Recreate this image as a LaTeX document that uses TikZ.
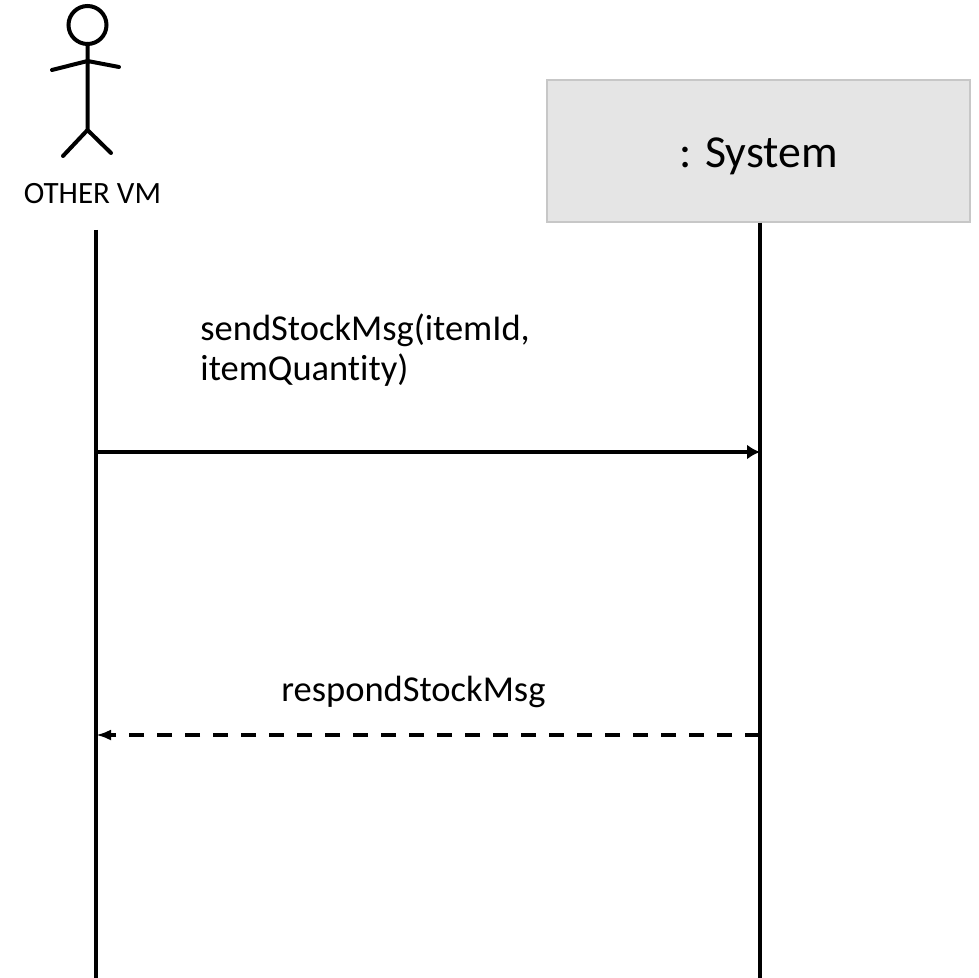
\documentclass[tikz,border=0pt]{standalone}
\usepackage{fontspec}
\setmainfont{Carlito}[Ligatures=NoCommon]
\usetikzlibrary{arrows.meta}

\begin{document}
\begin{tikzpicture}[x=0.5pt,y=-0.5pt]
        \useasboundingbox (0,0) rectangle (979,978);
        % Define the actor (stick figure)
        \draw[line width=2pt] (87.5,25) circle (9.5pt);
        \draw[line width=2pt,line cap=round] (87.5,44) -- (87.5,130)
            (52,70) -- (87.5,61) -- (119,67)
            (63,156) -- (87.5,130) -- (111,153);
        \node[anchor=base,inner sep=0pt,font=\fontsize{15.5}{18}\selectfont] (actor) at (92.5,204) {OTHER VM};
        % Define the system object
        \node[draw=black!22,fill=black!10,line width=0.75pt,minimum width=211.5pt,minimum height=71pt,
              inner sep=0pt,text height=17pt,text depth=0pt,font=\fontsize{22.9}{26}\selectfont] (sys) at (758.5,151) {: System};
        % Lifelines
        \coordinate (actTop) at (96,230);
        \coordinate (actEnd) at (96,978);
        \coordinate (sysEnd) at (760,978);
        \draw[line width=1.8pt] (actTop) -- (actEnd);
        \draw[line width=1.8pt] (sys.south -| sysEnd) -- (sysEnd);
        % Messages
        \coordinate (m1a) at (96,452);
        \coordinate (m1b) at (760,452);
        \coordinate (m2a) at (96,735);
        \coordinate (m2b) at (760,735);
        \draw[line width=1.6pt,-{Latex[length=6.5pt,width=7.5pt]}] (m1a) -- (m1b);
        \draw[line width=1.6pt,dash pattern=on 7.5pt off 6.5pt,-{Latex[length=7.5pt,width=5.5pt]}] (m2b) -- (m2a);
        \node[anchor=base west,inner sep=0pt,align=left,font=\fontsize{18.25}{20}\selectfont] (msg1) at (200,380) {sendStockMsg(itemId,\\itemQuantity)};
        \node[anchor=base west,inner sep=0pt,font=\fontsize{18.25}{20}\selectfont] (msg2) at (281,701) {respondStockMsg};
    \end{tikzpicture}
\end{document}
